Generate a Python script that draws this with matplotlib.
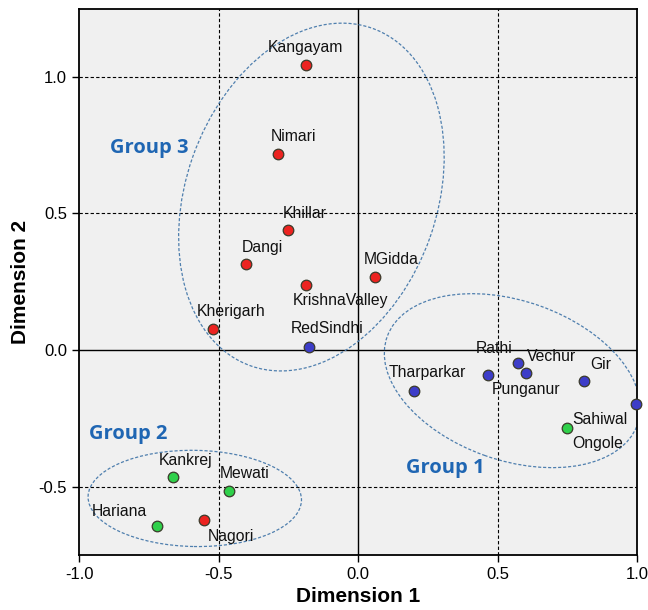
import numpy as np
import matplotlib
matplotlib.use("Agg")
import matplotlib.pyplot as plt
from matplotlib.patches import Ellipse

# breed coordinates
breeds = ["Kangayam", "Nimari", "Khillar", "Dangi", "KrishnaValley", "MGidda",
          "Kherigarh", "RedSindhi", "Tharparkar", "Rathi", "Vechur", "Punganur",
          "Gir", "Ongole", "Sahiwal", "Kankrej", "Mewati", "Hariana", "Nagori"]
dim1 = [-0.187, -0.287, -0.250, -0.400, -0.188, 0.062, -0.520, -0.175, 0.199,
        0.467, 0.572, 0.601, 0.811, 0.996, 0.749, -0.662, -0.463, -0.721, -0.553]
dim2 = [1.045, 0.718, 0.439, 0.314, 0.239, 0.268, 0.078, 0.012, -0.149,
        -0.091, -0.047, -0.083, -0.114, -0.199, -0.287, -0.466, -0.514, -0.643, -0.623]
cluster = ["r", "r", "r", "r", "r", "r", "r", "b", "b", "b", "b", "b",
           "b", "b", "g", "g", "g", "g", "r"]

colors = {"r": "#ec2320", "b": "#3d3dc8", "g": "#2fd04a"}

# label offsets in pixels (dx, dy) - roughly how SPSS put them
offsets = {"KrishnaValley": (35, -16), "Rathi": (6, 26), "Vechur": (34, 6),
           "Punganur": (0, -17), "Sahiwal": (33, 9), "Ongole": (-38, -39),
           "Hariana": (-37, 14), "Nagori": (27, -16), "Kangayam": (0, 17),
           "Tharparkar": (14, 18), "Kankrej": (12, 17), "RedSindhi": (18, 18),
           "Kherigarh": (18, 17)}

fig = plt.figure(figsize=(6.48, 6.10), dpi=100)
ax = fig.add_axes([79/648, 1-555/610, 558/648, 546.5/610])
ax.set_facecolor("#f0f0f0")

ax.set_xlim(-1.0, 1.0)
ax.set_ylim(-0.75, 1.25)

# reference lines
for v in [-0.5, 0.5]:
    ax.axvline(v, color="black", lw=0.8, ls=(0, (3, 2)), zorder=1)
for v in [-0.5, 0.5, 1.0]:
    ax.axhline(v, color="black", lw=0.8, ls=(0, (3, 2)), zorder=1)
ax.axvline(0, color="black", lw=1.0, zorder=1)
ax.axhline(0, color="black", lw=1.0, zorder=1)

# group ellipses
ell_style = dict(fill=False, ec="#4f7fae", lw=0.9, ls=(0, (2.5, 1.5)), zorder=2)
ax.add_patch(Ellipse((-0.167, 0.560), 1.31, 0.90, angle=71, **ell_style))
ax.add_patch(Ellipse((0.553, -0.112), 0.953, 0.582, angle=-20, **ell_style))
ax.add_patch(Ellipse((-0.585, -0.543), 0.765, 0.352, angle=-1, **ell_style))

# points (green drawn on top)
for key in ["r", "b", "g"]:
    xs = [x for x, c in zip(dim1, cluster) if c == key]
    ys = [y for y, c in zip(dim2, cluster) if c == key]
    ax.scatter(xs, ys, s=58, color=colors[key], edgecolor="#3a3a2a",
               linewidth=0.9, zorder=4, clip_on=False)

for name, x, y in zip(breeds, dim1, dim2):
    dx, dy = offsets.get(name, (16, 17))
    ax.annotate(name, (x, y), xytext=(dx, dy), textcoords="offset pixels",
                ha="center", va="center", fontsize=11.3,
                family="Liberation Sans", color="#111111", zorder=5)

grp = dict(color="#1f66b3", fontsize=14.5, fontweight="bold", family="Open Sans",
           ha="center", va="center")
ax.text(-0.747, 0.738, "Group 3", **grp)
ax.text(-0.822, -0.308, "Group 2", **grp)
ax.text(0.312, -0.433, "Group 1", **grp)

ax.set_xticks([-1.0, -0.5, 0.0, 0.5, 1.0])
ax.set_yticks([-0.5, 0.0, 0.5, 1.0])
ax.set_xticklabels(["-1.0", "-0.5", "0.0", "0.5", "1.0"])
ax.set_yticklabels(["-0.5", "0.0", "0.5", "1.0"])
ax.tick_params(direction="out", length=5, width=1, labelsize=12, top=False, right=False)
for lab in ax.get_xticklabels() + ax.get_yticklabels():
    lab.set_family("Liberation Sans")

for sp in ax.spines.values():
    sp.set_linewidth(1.3)
    sp.set_color("black")

ax.set_xlabel("Dimension 1", fontsize=15, fontweight="bold", family="Liberation Sans", labelpad=4)
ax.set_ylabel("Dimension 2", fontsize=15, fontweight="bold", family="Liberation Sans", labelpad=6)

fig.savefig("out.png", dpi=100)
